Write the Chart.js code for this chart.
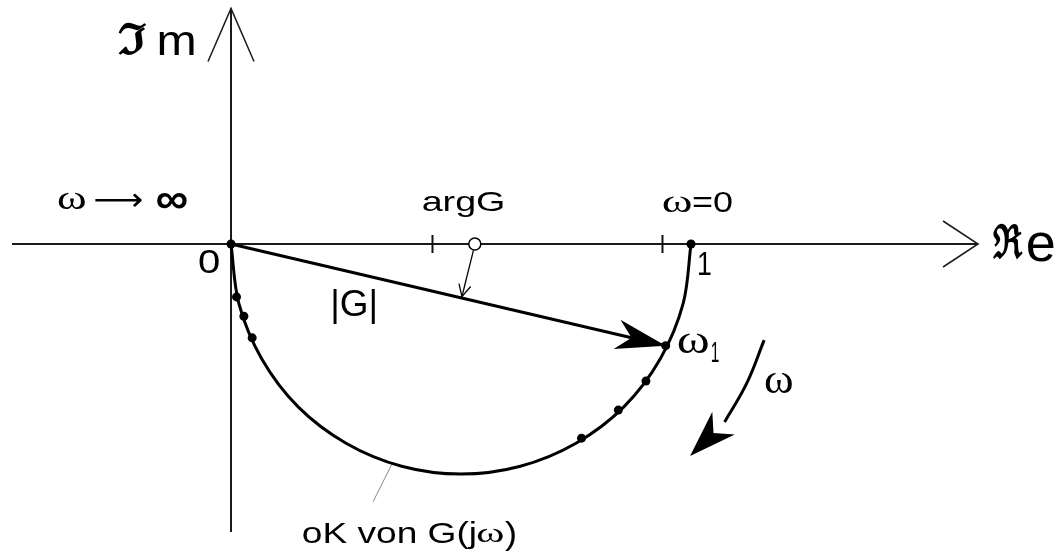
<!DOCTYPE html>
<html>
<head>
<meta charset="utf-8">
<script src="https://cdn.jsdelivr.net/npm/chart.js@4/dist/chart.umd.min.js"></script>
<style>
  html, body { margin: 0; padding: 0; background: #fff; }
  #wrap { width: 1059px; height: 553px; }
</style>
</head>
<body>
<div id="wrap"><canvas id="nyquist"></canvas></div>
<script>
// Ortskurve von G(jw) = 1/(1 + jwT), Re/Im pairs
const locusRe = [1, 0.983, 0.933, 0.854, 0.75, 0.629, 0.5, 0.371, 0.25, 0.146, 0.067, 0.017, 0];
const locusIm = [0, -0.129, -0.25, -0.354, -0.433, -0.483, -0.5, -0.483, -0.433, -0.354, -0.25, -0.129, 0];

// marked frequencies on the locus (0, 1, w1 and a few more)
const markRe = [0, 1, 0.945, 0.902, 0.842, 0.762, 0.046, 0.028, 0.012];
const markIm = [0, 0, -0.221, -0.298, -0.361, -0.422, -0.204, -0.157, -0.115];

const omega1 = [0.945, -0.221];
const argCircle = [0.530, 0];
const tickRe = [0.438, 0.938];

const axisRe = [-0.476, 1.624];
const axisIm = [0.512, -0.626];

const argArrowRe = [0.527, 0.502];
const argArrowIm = [-0.014, -0.1145];

const omegaArrowRe = [1.159, 1.121, 1.073];
const omegaArrowIm = [-0.209, -0.303, -0.387];
const omegaArrowTip = [0.998, -0.461];

const leaderRe = [0.349, 0.309];
const leaderIm = [-0.480, -0.560];

// text: box = [left, top, right, bottom] in plane units, or span + base + size
const SANS = 'Liberation Sans', SERIF = 'Liberation Serif';
const texts = [
    { t: 'ℑ', font: 'DejaVu Serif', bold: true, box: [-0.2457, 0.4826, -0.1826, 0.4109] },
    { t: 'm', font: SANS, box: [-0.1565, 0.4609, -0.0804, 0.4109] },
    { t: 'ℜ', font: 'DejaVu Serif', bold: true, box: [1.6565, 0.0457, 1.7217, -0.0348] },
    { t: 'e', font: SANS, box: [1.7304, 0.0239, 1.7891, -0.0370] },
    { t: 'ω', font: SERIF, box: [-0.3761, 0.1130, -0.3174, 0.0761] },
    { t: '⟶', font: 'DejaVu Sans', box: [-0.2957, 0.1109, -0.1935, 0.0783] },
    { t: '∞', font: SANS, bold: true, box: [-0.1609, 0.1109, -0.0935, 0.0761] },
    { t: 'argG', font: SANS, size: 28, span: [0.4174, 0.5913], base: 0.0717 },
    { t: 'ω', font: SERIF, box: [0.9391, 0.1043, 1.0, 0.0696] },
    { t: '=0', font: SANS, box: [1.0043, 0.1152, 1.0891, 0.0696] },
    { t: '0', font: SANS, box: [-0.0696, -0.0130, -0.0261, -0.0630] },
    { t: '1', font: SANS, box: [1.0174, -0.0174, 1.0435, -0.0674] },
    { t: '|G|', font: SANS, box: [0.2217, -0.0957, 0.3130, -0.1717] },
    { t: 'ω', font: SERIF, box: [0.9717, -0.1935, 1.0370, -0.2370] },
    { t: '1', font: SANS, box: [1.0457, -0.2130, 1.0609, -0.2565] },
    { t: 'ω', font: SERIF, box: [1.1609, -0.2783, 1.2196, -0.3239] },
    { t: 'oK von G(j', font: SANS, size: 30, span: [0.1565, 0.5304], base: -0.6500 },
    { t: 'ω', font: SERIF, box: [0.5348, -0.6174, 0.5913, -0.6478] },
    { t: ')', font: SANS, box: [0.5957, -0.6022, 0.6174, -0.6652] }
];

const pts = (xs, ys) => xs.map((x, i) => ({ x: x, y: ys[i] }));

function dart(ctx, tip, base, len, half, notch) {
    const dx = tip.x - base.x, dy = tip.y - base.y;
    const d = Math.hypot(dx, dy);
    const ux = dx / d, uy = dy / d;
    const bx = tip.x - ux * len, by = tip.y - uy * len;
    ctx.beginPath();
    ctx.moveTo(tip.x, tip.y);
    ctx.lineTo(bx - uy * half, by + ux * half);
    ctx.lineTo(tip.x - ux * len * (1 - notch), tip.y - uy * len * (1 - notch));
    ctx.lineTo(bx + uy * half, by - ux * half);
    ctx.closePath();
    ctx.fill();
}

function openHead(ctx, tip, from, len, half) {
    const dx = tip.x - from.x, dy = tip.y - from.y;
    const d = Math.hypot(dx, dy);
    const ux = dx / d, uy = dy / d;
    const bx = tip.x - ux * len, by = tip.y - uy * len;
    ctx.beginPath();
    ctx.moveTo(bx - uy * half, by + ux * half);
    ctx.lineTo(tip.x, tip.y);
    ctx.lineTo(bx + uy * half, by - ux * half);
    ctx.stroke();
}

const arrowPlugin = {
    id: 'arrows',
    afterDatasetsDraw(chart) {
        const { ctx, scales: { x, y } } = chart;
        const px = (re, im) => ({ x: x.getPixelForValue(re), y: y.getPixelForValue(im) });
        ctx.save();
        ctx.fillStyle = '#000';
        ctx.strokeStyle = '#1a1a1a';
        ctx.lineWidth = 1.5;
        openHead(ctx, px(axisRe[1], 0), px(axisRe[0], 0), 35, 23);
        openHead(ctx, px(0, axisIm[0]), px(0, axisIm[1]), 53, 23);
        ctx.strokeStyle = '#000';
        ctx.lineWidth = 1.3;
        openHead(ctx, px(argArrowRe[1], argArrowIm[1]), px(argArrowRe[0], argArrowIm[0]), 12, 6);
        dart(ctx, px(omega1[0], omega1[1]), px(0, 0), 50, 15, 0.3);
        const n = omegaArrowRe.length - 1;
        dart(ctx, px(omegaArrowTip[0], omegaArrowTip[1]), px(omegaArrowRe[n], omegaArrowIm[n]), 47, 16, 0.3);
        ctx.restore();
    }
};

const textPlugin = {
    id: 'texts',
    afterDraw(chart) {
        const { ctx, scales: { x, y } } = chart;
        ctx.save();
        ctx.fillStyle = '#000';
        ctx.textAlign = 'left';
        ctx.textBaseline = 'alphabetic';
        texts.forEach(lb => {
            const size = lb.size || 40;
            ctx.font = `${lb.bold ? 'bold ' : ''}${size}px "${lb.font}"`;
            const m = ctx.measureText(lb.t);
            const inkW = m.actualBoundingBoxLeft + m.actualBoundingBoxRight;
            const inkH = m.actualBoundingBoxAscent + m.actualBoundingBoxDescent;
            let sx, sy, ox, oy;
            if (lb.box) {
                const l = x.getPixelForValue(lb.box[0]), t = y.getPixelForValue(lb.box[1]);
                const r = x.getPixelForValue(lb.box[2]), b = y.getPixelForValue(lb.box[3]);
                sx = (r - l) / inkW;
                sy = (b - t) / inkH;
                ox = l + m.actualBoundingBoxLeft * sx;
                oy = b - m.actualBoundingBoxDescent * sy;
            } else {
                const l = x.getPixelForValue(lb.span[0]), r = x.getPixelForValue(lb.span[1]);
                sx = (r - l) / inkW;
                sy = 1;
                ox = l + m.actualBoundingBoxLeft * sx;
                oy = y.getPixelForValue(lb.base);
            }
            ctx.save();
            ctx.translate(ox, oy);
            ctx.scale(sx, sy);
            ctx.fillText(lb.t, 0, 0);
            ctx.restore();
        });
        ctx.restore();
    }
};

const line = (label, data, color, width, order, extra) => Object.assign({
    label: label, data: data, showLine: true, borderColor: color, borderWidth: width,
    pointRadius: 0, order: order, borderCapStyle: 'butt'
}, extra || {});

new Chart(document.getElementById('nyquist'), {
    type: 'scatter',
    data: {
        datasets: [
            { label: 'marks', data: pts(markRe, markIm), pointRadius: 4.5, pointBackgroundColor: '#000',
              pointBorderWidth: 0, showLine: false, order: 0 },
            { label: 'argG', data: [{ x: argCircle[0], y: argCircle[1] }], pointRadius: 6,
              pointBackgroundColor: '#fff', pointBorderColor: '#000', pointBorderWidth: 1.5, order: 0 },
            { label: 'ticks', data: tickRe.map(v => ({ x: v, y: 0 })), pointStyle: 'line', rotation: 90,
              pointRadius: 9, pointBorderColor: '#111', pointBorderWidth: 2, order: 1 },
            line('locus', pts(locusRe, locusIm), '#000', 3, 2, { tension: 0.34 }),
            line('|G|', [{ x: 0, y: 0 }, { x: omega1[0], y: omega1[1] }], '#000', 3, 2),
            line('argArrow', pts(argArrowRe, argArrowIm), '#000', 1.3, 2),
            line('omegaArrow', pts(omegaArrowRe, omegaArrowIm), '#000', 3, 2, { tension: 0.4 }),
            line('leader', pts(leaderRe, leaderIm), '#8a8a8a', 1, 3),
            line('Re', axisRe.map(v => ({ x: v, y: 0 })), '#1a1a1a', 2, 5),
            line('Im', axisIm.map(v => ({ x: 0, y: v })), '#1a1a1a', 2, 5)
        ]
    },
    options: {
        responsive: true,
        maintainAspectRatio: false,
        animation: false,
        layout: { padding: 0, autoPadding: false },
        plugins: { legend: { display: false }, tooltip: { enabled: false } },
        scales: {
            x: { type: 'linear', min: -0.5022, max: 1.8, display: false },
            y: { type: 'linear', min: -0.6717, max: 0.5304, display: false }
        }
    },
    plugins: [arrowPlugin, textPlugin]
});
</script>
</body>
</html>
